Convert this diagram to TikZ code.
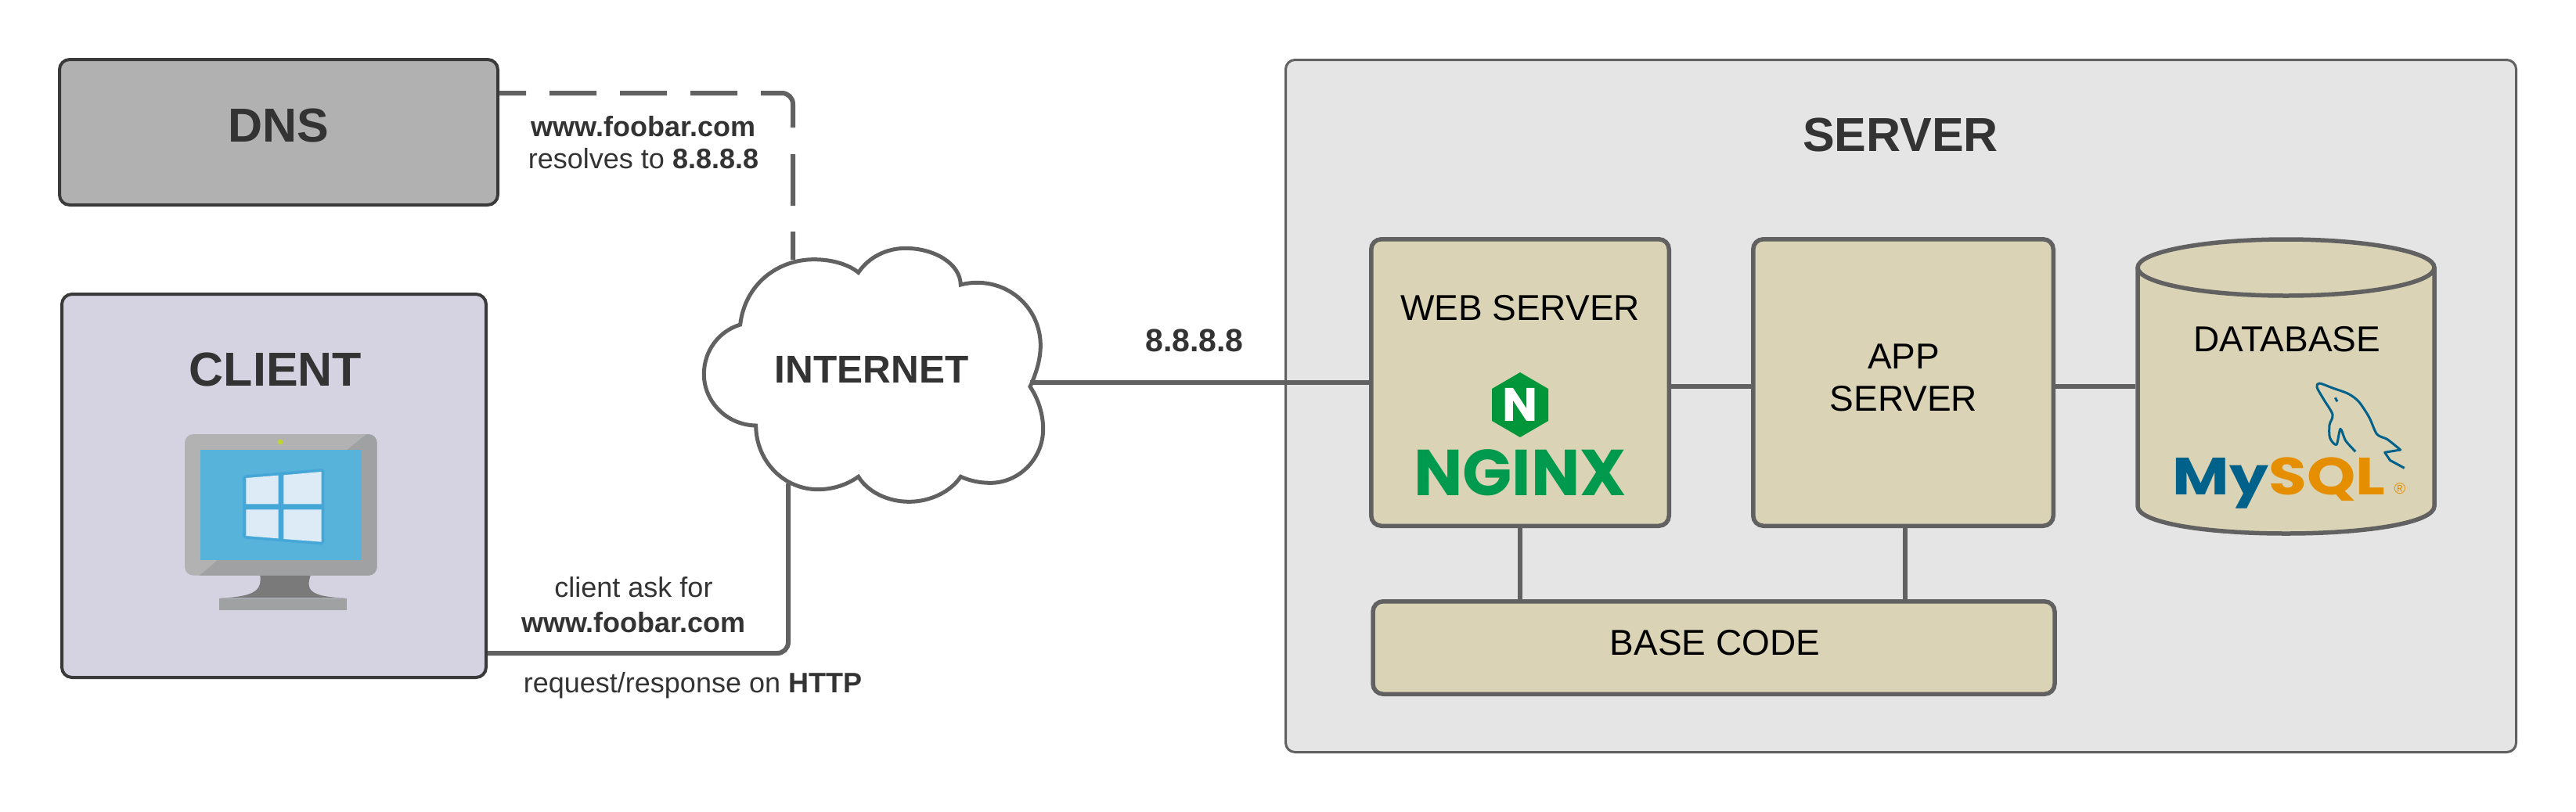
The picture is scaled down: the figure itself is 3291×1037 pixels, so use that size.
\documentclass[tikz,border=0pt]{standalone}
\usepackage{fontspec}
\usepackage{xcolor}
\usepackage{tikz}
\setmainfont{Liberation Sans}
\newfontfamily\logofont{Poppins}
\newfontfamily\sqlfont{Poppins}[FakeStretch=1.18]
\definecolor{cizgi}{HTML}{616161}
\definecolor{koyu}{HTML}{3A3A3A}
\definecolor{yazi}{HTML}{333333}
\definecolor{dnsGri}{HTML}{B1B1B1}
\definecolor{clientMor}{HTML}{D5D3E2}
\definecolor{serverGri}{HTML}{E5E5E5}
\definecolor{kutuBej}{HTML}{DBD3B5}
\definecolor{monAcik}{HTML}{B2B2B2}
\definecolor{monKoyu}{HTML}{A0A1A3}
\definecolor{monAyak}{HTML}{7A7A7A}
\definecolor{ekranMavi}{HTML}{58B3DB}
\definecolor{winMavi}{HTML}{45A6D8}
\definecolor{winAcik}{HTML}{DCEBF6}
\definecolor{ledYesil}{HTML}{BFD62B}
\definecolor{nginxYesil}{HTML}{009639}
\definecolor{nginxYazi}{HTML}{009A4E}
\definecolor{mysqlMavi}{HTML}{00618A}
\definecolor{mysqlTuruncu}{HTML}{E48E00}
\tikzset{
  link/.style={draw=cizgi,line width=6pt,rounded corners=14pt},
  bejbox/.style={draw=cizgi,fill=kutuBej,line width=5.5pt,rounded corners=13pt},
  koyubox/.style={draw=koyu,line width=4pt,rounded corners=13pt},
  baslik/.style={text=yazi,inner sep=0pt,font=\fontsize{61}{70}\selectfont\bfseries},
  etiket/.style={text=black,inner sep=0pt,align=center,font=\fontsize{46}{54}\selectfont},
  notyazi/.style={text=yazi,inner sep=0pt,align=center,font=\fontsize{36}{41}\selectfont}
}
\begin{document}
\begin{tikzpicture}[x=1pt,y=-1pt]
\useasboundingbox (0,0) rectangle (3291,1037);
\node[draw=cizgi,fill=serverGri,line width=3pt,rounded corners=12pt,minimum width=1572pt,minimum height=885pt] (server) at (2428.5,519) {};
\node[baslik] (serverLabel) at (2428,172) {SERVER};
\node[koyubox,fill=dnsGri,minimum width=560pt,minimum height=186pt] (dns) at (356,169) {};
\node[baslik] (dnsLabel) at (356,160) {DNS};
\node[koyubox,fill=clientMor,minimum width=542pt,minimum height=490pt] (client) at (350,621) {};
\node[baslik] (clientLabel) at (352,472) {CLIENT};
\begin{scope}[shift={(200,530)},scale=1/3]
\begin{scope}
\clip[rounded corners=11pt] (108,75) rectangle (845,617);
\fill[monAcik] (108,75) rectangle (845,617);
\fill[monKoyu] (805,75)--(845,75)--(845,617)--(165,617)--(235,557)--(786,557)--(786,135)--(730,135)--cycle;
\end{scope}
\fill[ekranMavi] (168,135) rectangle (786,557);
\fill[ledYesil] (474,105) circle (10);
\fill[monAyak] (397,617) .. controls (403,665) and (390,700) .. (240,703) -- (728,703) .. controls (575,700) and (575,665) .. (590,617) -- cycle;
\fill[monKoyu] (240,705) rectangle (728,750);
\fill[winMavi,rounded corners=4pt] (330,233)--(643,207)--(643,500)--(330,475)--cycle;
\fill[winAcik] (343,243)--(467,233)--(467,343)--(343,343)--cycle (487,232)--(632,219)--(632,343)--(487,343)--cycle (343,364)--(467,364)--(467,475)--(343,465)--cycle (487,364)--(632,364)--(632,488)--(487,477)--cycle;
\end{scope}
\coordinate (dnsOut) at (638,119);
\coordinate (clientOut) at (623,835);
\coordinate (inetTop) at (1013,332);
\coordinate (inetBottom) at (1007,618);
\coordinate (inetRight) at (1316,489);
\draw[link,dash pattern=on 34pt off 30pt on 60pt off 30pt on 60pt off 30pt on 60pt off 30pt on 79pt off 34pt on 66pt off 33pt on 60pt off 30pt] (dnsOut) -| (inetTop);
\draw[link] (clientOut) -| (inetBottom);
\begin{scope}[shift={(880,300)},scale=1/3]
\draw[cizgi,fill=white,line width=5pt] (197,345) .. controls (215,190) and (340,95) .. (480,95) .. controls (560,95) and (620,120) .. (650,145) .. controls (690,85) and (760,52) .. (830,52) .. controls (940,52) and (1040,110) .. (1042,192) .. controls (1065,186) and (1085,184) .. (1105,184) .. controls (1240,184) and (1348,290) .. (1348,425) .. controls (1348,480) and (1330,535) .. (1308,583) .. controls (1340,630) and (1358,690) .. (1358,745) .. controls (1358,860) and (1265,952) .. (1155,952) .. controls (1115,952) and (1075,943) .. (1042,928) .. controls (1005,985) and (925,1024) .. (845,1024) .. controls (760,1024) and (685,985) .. (650,928) .. controls (605,960) and (550,977) .. (495,977) .. controls (365,977) and (258,870) .. (257,732) .. controls (145,730) and (58,640) .. (58,535) .. controls (58,445) and (115,370) .. (197,345) -- cycle;
\end{scope}
\node[baslik,font=\fontsize{49.5}{56}\selectfont\bfseries] (inet) at (1113.5,472) {INTERNET};
\node[bejbox,minimum width=380.5pt,minimum height=366.5pt] (web) at (1942,489) {};
\node[bejbox,minimum width=383.5pt,minimum height=366.5pt] (app) at (2431.5,489) {};
\node[bejbox,minimum width=871pt,minimum height=118.5pt] (base) at (2189.5,828) {};
\draw[link] (inetRight) -- (web.west);
\draw[link] ([yshift=-5pt]web.east) -- ([yshift=-5pt]app.west);
\draw[link] (web.south) -- (web.south |- base.north);
\draw[link] ([xshift=2pt]app.south) -- ([xshift=2pt]app.south |- base.north);
\coordinate (dbWest) at (2728,494);
\draw[link] ([yshift=-5pt]app.east) -- (dbWest);
\draw[cizgi,fill=kutuBej,line width=5.5pt] (2731,342) -- (2731,647) .. controls (2731,668) and (2816,682) .. (2920.5,682) .. controls (3025,682) and (3110,668) .. (3110,647) -- (3110,342);
\draw[cizgi,fill=kutuBej,line width=5.5pt] (2920.5,342) ellipse [x radius=189.5pt,y radius=36pt];
\node[etiket] (webLabel) at (1942,394) {WEB SERVER};
\node[etiket] (appLabel) at (2432,483) {APP\\SERVER};
\node[etiket] (baseLabel) at (2191,822) {BASE CODE};
\node[etiket] (dbLabel) at (2922,434) {DATABASE};
\fill[nginxYesil] (1942,476)--(1978,497)--(1978,538)--(1942,559)--(1906,538)--(1906,497)--cycle;
\node[text=white,inner sep=0pt,font=\logofont\fontsize{60}{60}\selectfont\bfseries] (nginxN) at (1942,517.5) {N};
\node[text=nginxYazi,inner sep=0pt,font=\logofont\fontsize{83}{83}\selectfont\bfseries] (nginxLogo) at (1942,604) {NGINX};
\node[anchor=base,inner sep=0pt,font=\sqlfont\fontsize{67}{67}\selectfont\bfseries] (mysqlLogo) at (2911.5,632) {\textcolor{mysqlMavi}{My}\textcolor{mysqlTuruncu}{SQL}};
\node[text=mysqlTuruncu,inner sep=0pt,font=\fontsize{20}{20}\selectfont] (mysqlR) at (3066,625) {®};
\begin{scope}[shift={(2680,280)},scale=1/3]
\draw[mysqlMavi,line width=3pt,line join=round] plot[smooth,tension=0.5] coordinates {(988,892) (950,850) (930,805) (915,865) (890,840) (888,790) (900,750) (865,690) (840,645) (850,630) (900,648) (960,670) (1000,700) (1040,760) (1070,825) (1110,845) (1160,885)} -- (1100,895) -- (1120,925) -- (1175,955);
\draw[mysqlMavi,line width=3pt] (910,685) -- (918,700);
\end{scope}
\node[notyazi,font=\fontsize{36}{41}\selectfont] (dnsNote) at (822,182) {\textbf{www.foobar.com}\\resolves to \textbf{8.8.8.8}};
\node[notyazi,font=\fontsize{36}{45}\selectfont] (clientNote) at (809.5,773) {client ask for\\\textbf{www.foobar.com}};
\node[notyazi] (httpNote) at (885,876) {request/response on \textbf{HTTP}};
\node[notyazi,font=\fontsize{41}{46}\selectfont\bfseries] (ipNote) at (1526,435) {8.8.8.8};
\end{tikzpicture}
\end{document}
